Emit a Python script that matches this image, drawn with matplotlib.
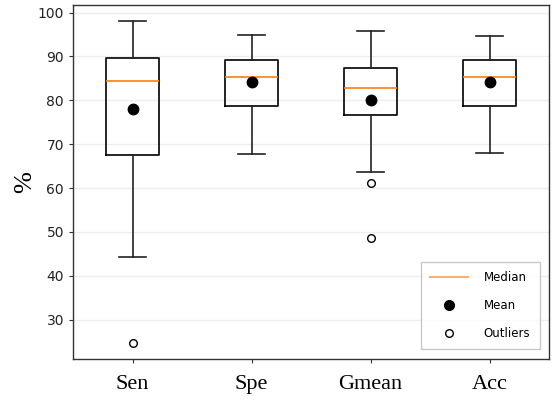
import matplotlib
matplotlib.use("Agg")
import matplotlib.pyplot as plt
from matplotlib.lines import Line2D

# values (percent)
labels = ["Sen", "Spe", "Gmean", "Acc"]
whislo = [44.4, 67.8, 63.6, 68.0]
q1 = [67.5, 78.8, 76.7, 78.8]
med = [84.5, 85.4, 82.85, 85.4]
q3 = [89.7, 89.1, 87.3, 89.1]
whishi = [98.1, 94.9, 95.7, 94.7]
means = [78.0, 84.2, 80.1, 84.2]
fliers = [[24.8], [], [61.1, 48.6], []]

stats = []
for i, name in enumerate(labels):
    stats.append({
        "label": name,
        "whislo": whislo[i],
        "q1": q1[i],
        "med": med[i],
        "q3": q3[i],
        "whishi": whishi[i],
        "mean": means[i],
        "fliers": fliers[i],
    })

fig, ax = plt.subplots(figsize=(5.53, 4.03), dpi=100)
fig.subplots_adjust(left=0.132, right=0.993, top=0.988, bottom=0.11)

ax.yaxis.grid(True, color="#eeeeee", linewidth=1.0, zorder=0)
ax.set_axisbelow(True)

ax.bxp(
    stats,
    widths=0.45,
    showmeans=True,
    meanprops=dict(marker="o", markerfacecolor="black", markeredgecolor="black", markersize=7.5),
    flierprops=dict(marker="o", markerfacecolor="white", markeredgecolor="black", markersize=5.5),
    medianprops=dict(color="#ff7f0e", linewidth=1.2),
    boxprops=dict(color="black", linewidth=1.2),
    whiskerprops=dict(color="#222222", linewidth=1.2),
    capprops=dict(color="#222222", linewidth=1.2),
)

for side in ["left", "bottom", "top", "right"]:
    ax.spines[side].set_color("#333333")
    ax.spines[side].set_linewidth(1.0)

ax.tick_params(axis="y", labelsize=10, length=3, colors="#333333", labelcolor="#222222")
ax.tick_params(axis="x", length=3, pad=9, colors="#333333")
for t in ax.get_xticklabels():
    t.set_fontfamily("Liberation Serif")
    t.set_fontsize(16)
    t.set_color("black")

ax.set_yticks([30, 40, 50, 60, 70, 80, 90, 100])
ax.set_ylabel("%", fontfamily="Liberation Serif", fontsize=19)
ax.yaxis.set_label_coords(-0.078, 0.5)

handles = [
    Line2D([0], [0], color="#ff7f0e", alpha=0.6, linewidth=1.5, label="Median"),
    Line2D([0], [0], color="black", marker="o", linestyle="none", markersize=7, label="Mean"),
    Line2D([0], [0], color="black", marker="o", markerfacecolor="white", linestyle="none",
           markersize=5.5, label="Outliers"),
]
leg = ax.legend(handles=handles, loc="lower right", fontsize=8.5, fancybox=False,
                borderpad=0.8, labelspacing=1.25, handlelength=3.2, handletextpad=1.3,
                borderaxespad=0.8)
leg.get_frame().set_edgecolor("#bbbbbb")

fig.savefig("out.png", dpi=100)
